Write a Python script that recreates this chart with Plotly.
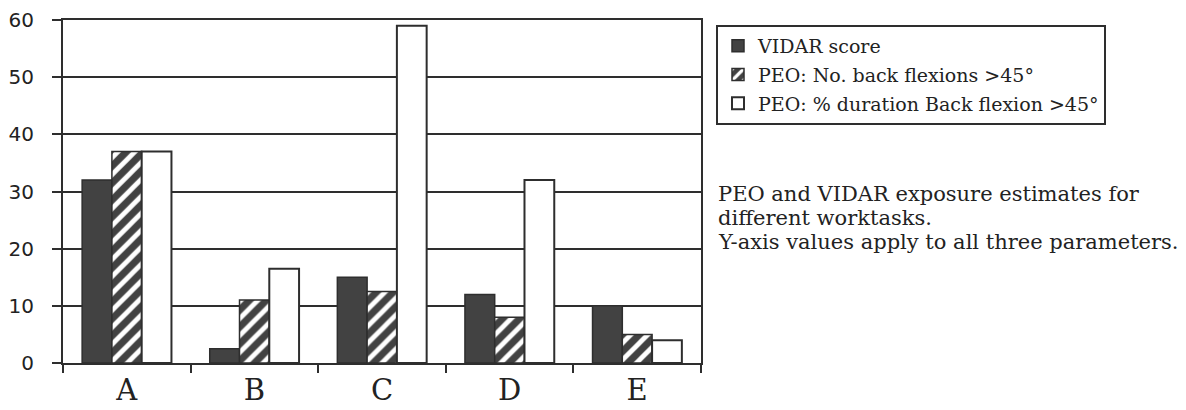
import plotly.graph_objects as go

categories = ["A", "B", "C", "D", "E"]
vidar_score = [32, 2.5, 15, 12, 10]
peo_no_flexions = [37, 11, 12.5, 8, 5]
peo_pct_duration = [37, 16.5, 59, 32, 4]
series_names = [
    "VIDAR score",
    "PEO: No. back flexions >45°",
    "PEO: % duration Back flexion >45°",
]
y_ticks = [0, 10, 20, 30, 40, 50, 60]
caption_lines = [
    "PEO and VIDAR exposure estimates for",
    "different worktasks.",
    "Y-axis values apply to all three parameters.",
]

DARK = "#424242"
LINE = "#2e2e2e"
SERIF = "DejaVu Serif, Liberation Serif, serif"
SANS = "DejaVu Sans, Liberation Sans, sans-serif"

OFF = 8  # page body margin
W, H = 1178, 402
L, T = 63 - OFF, 20 - OFF
R = W - (701 - OFF)
B = H - (363 - OFF)
plot_w = W - L - R
plot_h = H - T - B

fig = go.Figure()
fig.add_trace(go.Bar(
    x=categories, y=vidar_score, name=series_names[0], legendgroup="g1",
    marker=dict(color=DARK, line=dict(color=LINE, width=1.5)),
))
fig.add_trace(go.Bar(
    x=categories, y=peo_no_flexions, name=series_names[1], legendgroup="g2",
    marker=dict(color=DARK, line=dict(color=LINE, width=1.5),
                pattern=dict(shape="/", fgcolor="white", bgcolor=DARK,
                             size=12, solidity=0.4, fillmode="replace")),
))
fig.add_trace(go.Bar(
    x=categories, y=peo_pct_duration, name=series_names[2], legendgroup="g3",
    marker=dict(color="white", line=dict(color=LINE, width=2)),
))

def px_x(pix):
    return (pix - OFF - L) / plot_w

def px_y(pix):
    return (H - B - (pix - OFF)) / plot_h

annotations = []
for i, line in enumerate(caption_lines):
    annotations.append(dict(
        xref="paper", yref="paper", x=px_x(716), y=px_y(194 + 24 * i),
        xanchor="left", yanchor="middle", align="left", showarrow=False,
        text=line, font=dict(family=SERIF, size=21, color="#222"),
    ))

fig.update_layout(
    width=W, height=H,
    margin=dict(l=L, r=R, t=T, b=B, autoexpand=False),
    paper_bgcolor="white", plot_bgcolor="white",
    barmode="group", bargap=0.30, bargroupgap=0,
    showlegend=True,
    legend=dict(
        x=px_x(716), y=px_y(25), xanchor="left", yanchor="top",
        bordercolor=LINE, borderwidth=2, bgcolor="white",
        font=dict(family=SERIF, size=19, color="#222"),
        tracegroupgap=1, itemwidth=30,
    ),
    xaxis=dict(
        automargin=False,
        tickson="boundaries", ticks="outside", ticklen=8, tickwidth=2, tickcolor=LINE,
        showline=True, linecolor=LINE, linewidth=2, mirror=True,
        showgrid=False,
        ticklabelstandoff=0,
        tickfont=dict(family=SERIF, size=29, color="#222"),
    ),
    yaxis=dict(
        automargin=False,
        range=[0, 60], tickvals=y_ticks,
        ticks="outside", ticklen=9, tickwidth=2, tickcolor=LINE,
        showline=True, linecolor=LINE, linewidth=2, mirror=True,
        showgrid=True, gridcolor=LINE, gridwidth=2, zeroline=False,
        ticklabelstandoff=14,
        tickfont=dict(family=SANS, size=20, color="#222"),
    ),
    annotations=annotations,
)

fig.write_html("out.html")
